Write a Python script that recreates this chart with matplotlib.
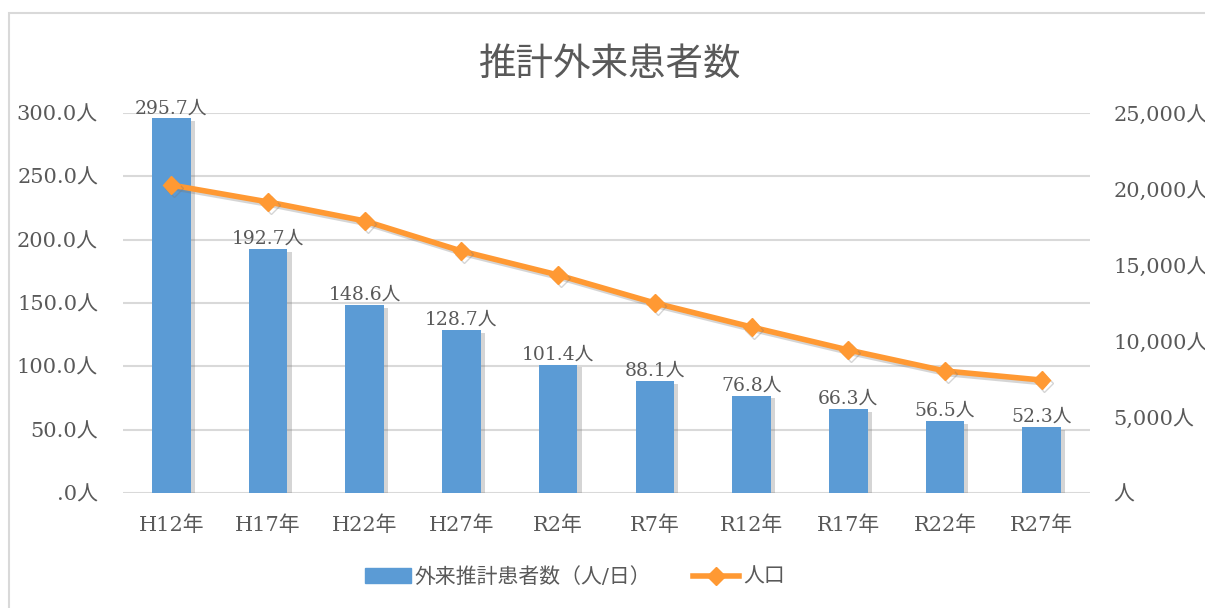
import matplotlib.pyplot as plt
import matplotlib.patheffects as pe
from matplotlib.patches import Rectangle
from matplotlib.lines import Line2D

categories = ['H12年', 'H17年', 'H22年', 'H27年', 'R2年', 'R7年', 'R12年', 'R17年', 'R22年', 'R27年']
patients = [295.7, 192.7, 148.6, 128.7, 101.4, 88.1, 76.8, 66.3, 56.5, 52.3]
population = [20260, 19150, 17900, 15920, 14340, 12500, 10920, 9410, 8030, 7430]
left_ticks = [0, 50, 100, 150, 200, 250, 300]
right_ticks = [0, 5000, 10000, 15000, 20000, 25000]

fam = ['DejaVu Serif', 'Noto Sans CJK JP']
plt.rcParams['font.family'] = fam
grey = '#595959'
bar_color = '#5B9BD5'
line_color = '#FF9933'

fig = plt.figure(figsize=(12.05, 6.08), dpi=100)
fig.patches.append(Rectangle((9 / 1205, -0.1), 1.2, 1 - 13 / 608 + 0.1, transform=fig.transFigure,
                             fill=False, edgecolor='#D9D9D9', linewidth=1.5))

ax = fig.add_axes([123 / 1205, 1 - 493 / 608, (1090 - 123) / 1205, 380 / 608])
x = list(range(len(categories)))
ax.bar(x, patients, width=0.4, color=bar_color, zorder=2,
       path_effects=[pe.SimplePatchShadow(offset=(3, -2), alpha=0.3, shadow_rgbFace='#777777'), pe.Normal()])
for xi, v in zip(x, patients):
    ax.text(xi, v + 1, f'{v:.1f}人', ha='center', va='bottom', fontsize=13.5, color=grey, zorder=5)

ax.set_xlim(-0.5, len(categories) - 0.5)
ax.set_ylim(0, 300)
ax.set_yticks(left_ticks)
ax.set_yticklabels([(f'{t:.1f}' if t else '.0') + '人' for t in left_ticks])
ax.set_xticks(x)
ax.set_xticklabels(categories)
ax.grid(axis='y', color='#D9D9D9', linewidth=1.5, zorder=0)
ax.set_axisbelow(True)
for s in ax.spines.values():
    s.set_visible(False)
ax.tick_params(axis='y', length=0, pad=18, labelsize=15, labelcolor=grey)
ax.tick_params(axis='x', length=0, pad=16, labelsize=15, labelcolor=grey)

ax2 = ax.twinx()
ax2.plot(x, population, color=line_color, linewidth=4, marker='D', markersize=9, zorder=4,
         path_effects=[pe.SimpleLineShadow(offset=(2, -2), alpha=0.3, shadow_color='#777777'), pe.Normal()])
ax2.set_ylim(0, 25000)
ax2.set_yticks(right_ticks)
ax2.set_yticklabels([(f'{t:,}' if t else '') + '人' for t in right_ticks])
for s in ax2.spines.values():
    s.set_visible(False)
ax2.tick_params(axis='y', length=0, pad=17, labelsize=15, labelcolor=grey)

fig.text(0.506, 1 - 65 / 608, '推計外来患者数', ha='center', va='center', fontsize=27, color=grey)

handles = [Rectangle((0, 0), 1, 1, color=bar_color),
           Line2D([], [], color=line_color, linewidth=4, marker='D', markersize=9)]
fig.legend(handles, ['外来推計患者数（人/日）', '人口'], loc='center', bbox_to_anchor=(0.477, 1 - 577 / 608),
           ncol=2, frameon=False, fontsize=15, labelcolor=grey, handlelength=2.2, handletextpad=0.2,
           columnspacing=2.0)

fig.savefig('out.png', dpi=100)
